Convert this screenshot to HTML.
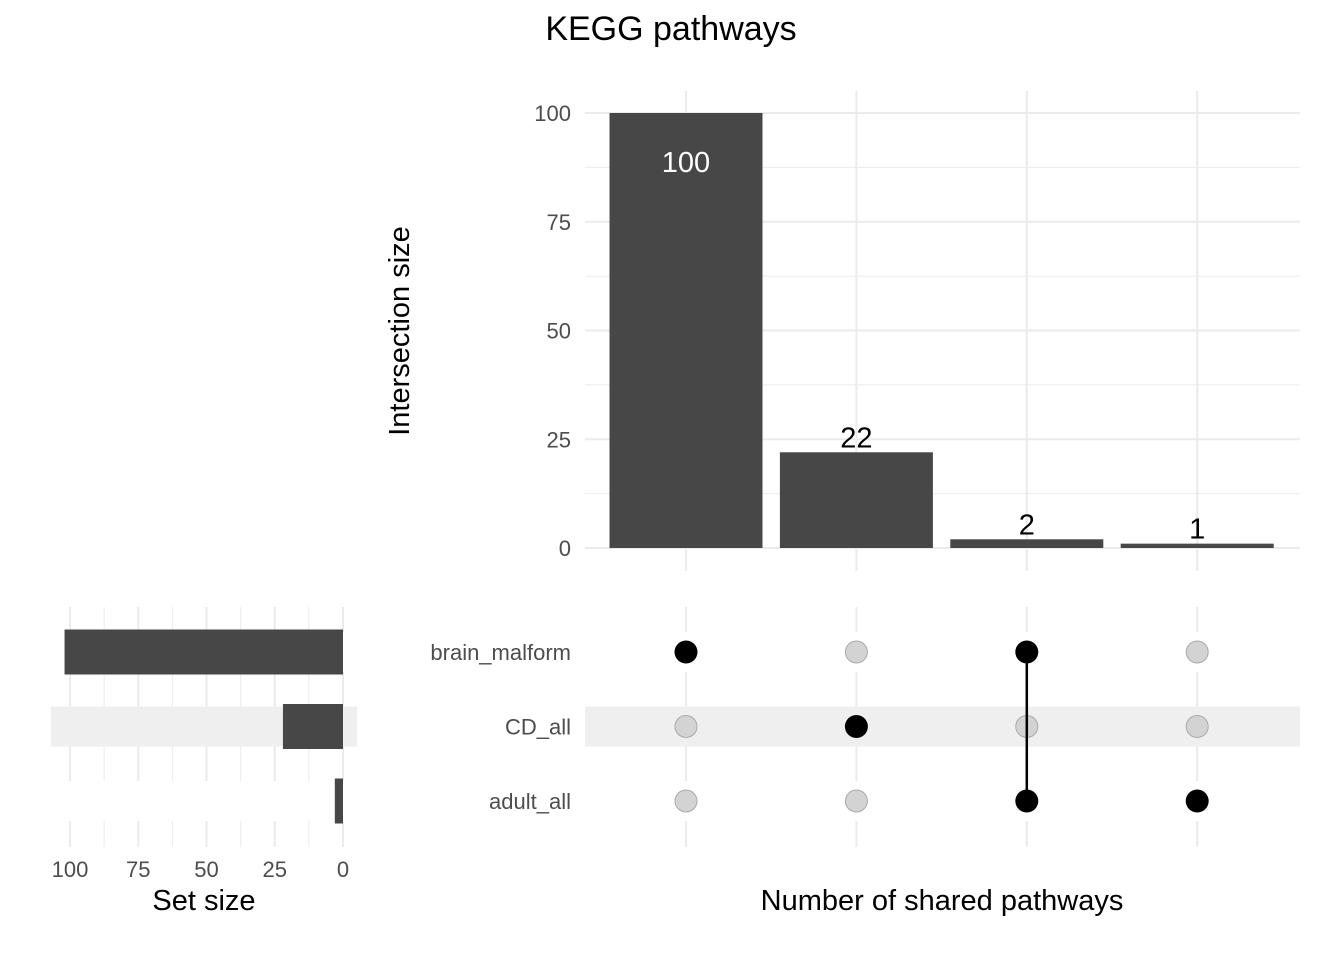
<!DOCTYPE html>
<html><head><meta charset="utf-8"><style>
html,body{margin:0;padding:0;background:#fff}
svg{display:block;font-family:"Liberation Sans",Arial,sans-serif}
</style></head><body>
<svg id="chart" width="1344" height="960" viewBox="0 0 1344 960">
<text x="671" y="40" font-size="34" text-anchor="middle" fill="#000">KEGG pathways</text>
<text transform="translate(409,331) rotate(-90)" font-size="29" text-anchor="middle" fill="#000">Intersection size</text>
<text x="942" y="910" font-size="29" text-anchor="middle" fill="#000">Number of shared pathways</text>
<text x="204" y="910" font-size="29" text-anchor="middle" fill="#000">Set size</text>
<g id="topG"></g><g id="matrixG"></g><g id="leftG"></g>
</svg>
<script>
const intersections = ["brain_malform", "CD_all", "brain_malform&adult_all", "adult_all"];
const intersectionSizes = [100, 22, 2, 1];
const sets = ["brain_malform", "CD_all", "adult_all"];
const setSizes = [102, 22, 3];
const membership = [[1,0,0],[0,1,0],[1,0,1],[0,0,1]];
const yTicks = [0, 25, 50, 75, 100];
const setTicks = [100, 75, 50, 25, 0];

const NS = "http://www.w3.org/2000/svg";
function mk(parent, tag, attrs) {
  const e = document.createElementNS(NS, tag);
  for (const k in attrs) e.setAttribute(k, attrs[k]);
  parent.appendChild(e);
  return e;
}
const yS = v => 548 - v * 4.35;
const xC = i => 686 + i * 170.4;
const rowY = j => 652 + j * 74.5;
const sS = v => 343 - v * 2.73;

const topG = document.getElementById('topG');
for (let v = 0; v <= 100; v += 12.5) {
  const l = mk(topG, 'line', {x1:585, x2:1300, y1:yS(v), y2:yS(v), stroke:'#ebebeb', 'stroke-width': v % 25 === 0 ? 2 : 1});
  
  
}
yTicks.forEach(v => {
  const t = mk(topG, 'text', {x:571, y:yS(v)+8, 'font-size':22, 'text-anchor':'end', fill:'#4d4d4d'});
  t.textContent = v;
  
  
});
intersections.forEach((n, i) => {
  const g = mk(topG, 'line', {x1:xC(i), x2:xC(i), y1:91, y2:571, stroke:'#ebebeb', 'stroke-width':2});
  
  
});
intersections.forEach((n, i) => {
  const v = intersectionSizes[i];
  const b = mk(topG, 'rect', {x:xC(i)-76.5, y:yS(v), width:153, height:548-yS(v), fill:'#474747'});
  
  
  const inside = v > 90;
  const t = mk(topG, 'text', {x:xC(i), y: inside ? yS(v)+59 : yS(v)-5, 'font-size':29, 'text-anchor':'middle', fill: inside ? '#fff' : '#000'});
  t.textContent = v;
  
  
});

const mx = document.getElementById('matrixG');
intersections.forEach((n, i) => {
  const g = mk(mx, 'line', {x1:xC(i), x2:xC(i), y1:607, y2:847, stroke:'#ebebeb', 'stroke-width':2});
  
  
});
sets.forEach((s, j) => {
  const band = mk(mx, 'rect', {x:585, y:rowY(j)-20, width:715, height:40, fill: j % 2 === 1 ? '#efefef' : '#fff'});
  
  
  const t = mk(mx, 'text', {x:571, y:rowY(j)+8, 'font-size':22, 'text-anchor':'end', fill:'#4d4d4d'});
  t.textContent = s;
  
  
});
intersections.forEach((n, i) => {
  const rows = membership[i].map((m, j) => m ? j : -1).filter(j => j >= 0);
  membership[i].forEach((m, j) => {
    if (!m) {
      const c = mk(mx, 'circle', {cx:xC(i), cy:rowY(j), r:11, fill:'#d3d3d3', stroke:'#a9a9a9', 'stroke-width':1});
      
      
    }
  });
  if (rows.length > 1) {
    const l = mk(mx, 'line', {x1:xC(i), x2:xC(i), y1:rowY(Math.min(...rows)), y2:rowY(Math.max(...rows)), stroke:'#000', 'stroke-width':2.5});
    
    
  }
  rows.forEach(j => {
    const c = mk(mx, 'circle', {cx:xC(i), cy:rowY(j), r:11.5, fill:'#000'});
    
    
  });
});

const leftG = document.getElementById('leftG');
for (let v = 0; v <= 100; v += 12.5) {
  const l = mk(leftG, 'line', {x1:sS(v), x2:sS(v), y1:607, y2:847, stroke:'#ebebeb', 'stroke-width': v % 25 === 0 ? 2 : 1});
  
  
}
sets.forEach((s, j) => {
  const band = mk(leftG, 'rect', {x:51, y:rowY(j)-20, width:306, height:40, fill: j % 2 === 1 ? '#efefef' : '#fff'});
  
  
});
sets.forEach((s, j) => {
  const b = mk(leftG, 'rect', {x:sS(setSizes[j]), y:rowY(j)-22.5, width:343-sS(setSizes[j]), height:45, fill:'#474747'});
  
  
});
setTicks.forEach(v => {
  const t = mk(leftG, 'text', {x:sS(v), y:877, 'font-size':22, 'text-anchor':'middle', fill:'#4d4d4d'});
  t.textContent = v;
  
  
});
</script>
</body></html>
